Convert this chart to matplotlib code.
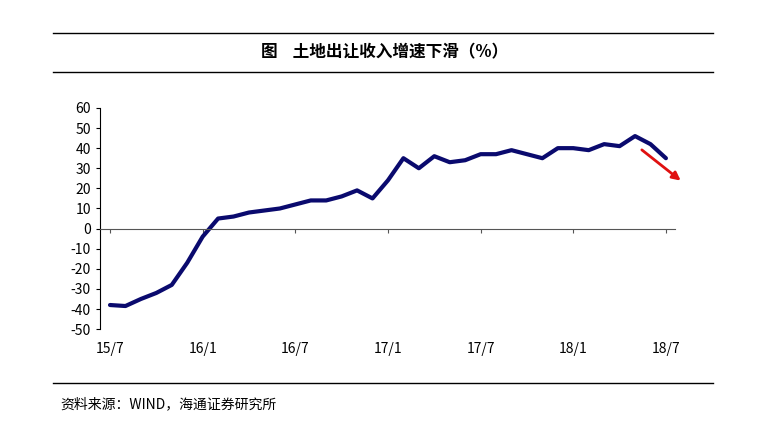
import matplotlib
matplotlib.use("Agg")
import matplotlib.pyplot as plt
import matplotlib.transforms as mtransforms

plt.rcParams['font.family'] = ['Noto Sans CJK SC', 'DejaVu Sans']
plt.rcParams['axes.unicode_minus'] = False

values = [-38, -38.5, -35, -32, -28, -17, -4, 5, 6, 8, 9, 10, 12, 14, 14, 16, 19, 15,
          24, 35, 30, 36, 33, 34, 37, 37, 39, 37, 35, 40, 40, 39, 42, 41, 46, 42, 35]
tick_labels = ['15/7', '16/1', '16/7', '17/1', '17/7', '18/1', '18/7']
tick_pos = [0, 6, 12, 18, 24, 30, 36]
yticks = list(range(-50, 61, 10))

fig = plt.figure(figsize=(7.69, 4.46), dpi=100)
ax = fig.add_axes([0.130, 0.262, 0.748, 0.496])
ax.plot(range(len(values)), values, color='#0a0a6e', lw=3, solid_joinstyle='round', solid_capstyle='round')
ax.set_xlim(-0.65, 36.6)
ax.set_ylim(-50, 60)
ax.set_yticks(yticks)
ax.tick_params(axis='y', labelsize=10, length=3, direction='out')
for s in ['top', 'right']:
    ax.spines[s].set_visible(False)
ax.spines['bottom'].set_position(('data', 0))
ax.spines['bottom'].set_color('#555555')
ax.set_xticks(tick_pos)
ax.set_xticklabels([])
ax.tick_params(axis='x', length=3, direction='out', colors='#555555')
trans = mtransforms.blended_transform_factory(ax.transData, ax.transAxes)
for p, l in zip(tick_pos, tick_labels):
    ax.text(p, -0.06, l, transform=trans, ha='center', va='top', fontsize=10)
ax.annotate('', xy=(37.1, 23), xytext=(34.3, 40),
            arrowprops=dict(arrowstyle='-|>', color='#e01010', lw=2, mutation_scale=12),
            annotation_clip=False)

for yy in [1 - 33 / 446, 1 - 72 / 446, 1 - 383 / 446]:
    fig.add_artist(plt.Line2D([53 / 769, 713 / 769], [yy, yy], color='black', lw=1))
fig.text(0.5, 1 - 52 / 446, '图    土地出让收入增速下滑（%）', ha='center', va='center',
         fontsize=12, fontweight='bold')
fig.text(60 / 769, 1 - 404 / 446, '资料来源：WIND，海通证券研究所', ha='left', va='center', fontsize=10)
fig.savefig('out.png', dpi=100)
